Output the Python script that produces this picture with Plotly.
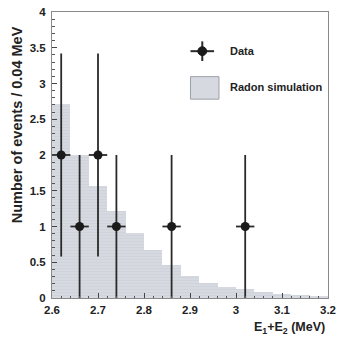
import plotly.graph_objects as go

# Radon simulation histogram (bins of 0.04 MeV starting at 2.60)
bin_centers = [2.62, 2.66, 2.70, 2.74, 2.78, 2.82, 2.86, 2.90, 2.94, 2.98, 3.02, 3.06, 3.10, 3.14, 3.18]
sim_counts = [2.72, 2.0, 1.56, 1.21, 0.91, 0.67, 0.46, 0.31, 0.21, 0.155, 0.12, 0.08, 0.055, 0.04, 0.03]

# Data points
data_x = [2.62, 2.66, 2.70, 2.74, 2.86, 3.02]
data_y = [2, 1, 2, 1, 1, 1]
data_err_up = [1.42, 1.0, 1.42, 1.0, 1.0, 1.0]
data_err_down = [1.42, 1.0, 1.42, 1.0, 1.0, 1.0]
data_xerr = [0.02, 0.02, 0.02, 0.02, 0.02, 0.02]

x_ticks = [2.6, 2.7, 2.8, 2.9, 3.0, 3.1, 3.2]
x_tick_labels = ["2.6", "2.7", "2.8", "2.9", "3", "3.1", "3.2"]
y_ticks = [0, 0.5, 1, 1.5, 2, 2.5, 3, 3.5, 4]
y_tick_labels = ["0", "0.5", "1", "1.5", "2", "2.5", "3", "3.5", "4"]

FILL = "#d6d9e0"
FONT = "Liberation Sans"

fig = go.Figure()
fig.add_trace(go.Bar(
    x=bin_centers, y=sim_counts, width=0.04,
    marker=dict(color=FILL, line=dict(width=0),
                pattern=dict(shape="-", fgcolor="#c5c9d2", bgcolor=FILL, size=3, solidity=0.25)),
    showlegend=False, hoverinfo="skip",
))
fig.add_trace(go.Scatter(
    x=data_x, y=data_y, mode="markers",
    marker=dict(color="#1a1a1a", size=9),
    error_y=dict(type="data", symmetric=False, array=data_err_up, arrayminus=data_err_down,
                 color="#2a2a2a", thickness=1.8, width=0),
    error_x=dict(type="data", array=data_xerr, color="#2a2a2a", thickness=1.8, width=0),
    showlegend=False,
))

L, R, T, B = 52, 9, 6, 42
W, H = 342, 340
pw, ph = W - L - R, H - T - B

def px(x):
    return (x - L) / pw

def py(y):
    return (H - B - y) / ph

shapes = [
    dict(type="line", xref="paper", yref="paper", x0=px(193), x1=px(217), y0=py(46), y1=py(46),
         line=dict(color="#2a2a2a", width=2)),
    dict(type="line", xref="paper", yref="paper", x0=px(205), x1=px(205), y0=py(36), y1=py(56),
         line=dict(color="#2a2a2a", width=2)),
    dict(type="circle", xref="paper", yref="paper", x0=px(200.5), x1=px(209.5), y0=py(41.5), y1=py(50.5),
         fillcolor="#1a1a1a", line=dict(color="#1a1a1a", width=1)),
    dict(type="rect", xref="paper", yref="paper", x0=px(193), x1=px(222), y0=py(72), y1=py(95),
         fillcolor=FILL, line=dict(color="#9aa0aa", width=1)),
]

annotations = [
    dict(text="Data", xref="paper", yref="paper", x=px(231), y=py(46), xanchor="left", yanchor="middle",
         showarrow=False, font=dict(family=FONT, size=11, color="#222", weight="bold")),
    dict(text="Radon simulation", xref="paper", yref="paper", x=px(231), y=py(83), xanchor="left",
         yanchor="middle", showarrow=False, font=dict(family=FONT, size=11, color="#222", weight="bold")),
    dict(text="Number of events / 0.04 MeV", xref="paper", yref="paper", x=px(16), y=py(121),
         xanchor="center", yanchor="middle", textangle=-90, showarrow=False,
         font=dict(family=FONT, size=14.5, color="#222", weight="bold")),
    dict(text="E<sub>1</sub>+E<sub>2</sub> (MeV)", xref="paper", yref="paper", x=px(332), y=py(329),
         xanchor="right", yanchor="middle", showarrow=False,
         font=dict(family=FONT, size=12.5, color="#222", weight="bold")),
]

fig.update_layout(
    width=W, height=H,
    margin=dict(l=L, r=R, t=T, b=B, pad=0),
    paper_bgcolor="white", plot_bgcolor="white",
    bargap=0, showlegend=False,
    font=dict(family=FONT, size=11, color="#222", weight="bold"),
    shapes=shapes, annotations=annotations,
)
fig.update_xaxes(
    range=[2.6, 3.2], tickvals=x_ticks, ticktext=x_tick_labels,
    ticks="inside", ticklen=5, tickwidth=1, tickcolor="#444",
    minor=dict(dtick=0.02, ticks="inside", ticklen=2.5, tickcolor="#555"),
    showline=True, linecolor="#8a8a8a", linewidth=1, mirror=True,
    showgrid=False, zeroline=False, ticklabelstandoff=1,
    tickfont=dict(family=FONT, size=11.5, color="#222", weight="bold"),
)
fig.update_yaxes(
    range=[0, 4], tickvals=y_ticks, ticktext=y_tick_labels,
    ticks="inside", ticklen=5, tickwidth=1, tickcolor="#444",
    minor=dict(dtick=0.1, ticks="inside", ticklen=2.5, tickcolor="#555"),
    showline=True, linecolor="#8a8a8a", linewidth=1, mirror=True,
    showgrid=False, zeroline=False, ticklabelstandoff=3,
    tickfont=dict(family=FONT, size=11.5, color="#222", weight="bold"),
)

fig.write_html("out.html", config={"displayModeBar": False},
               post_script="document.body.style.margin='0px';")
